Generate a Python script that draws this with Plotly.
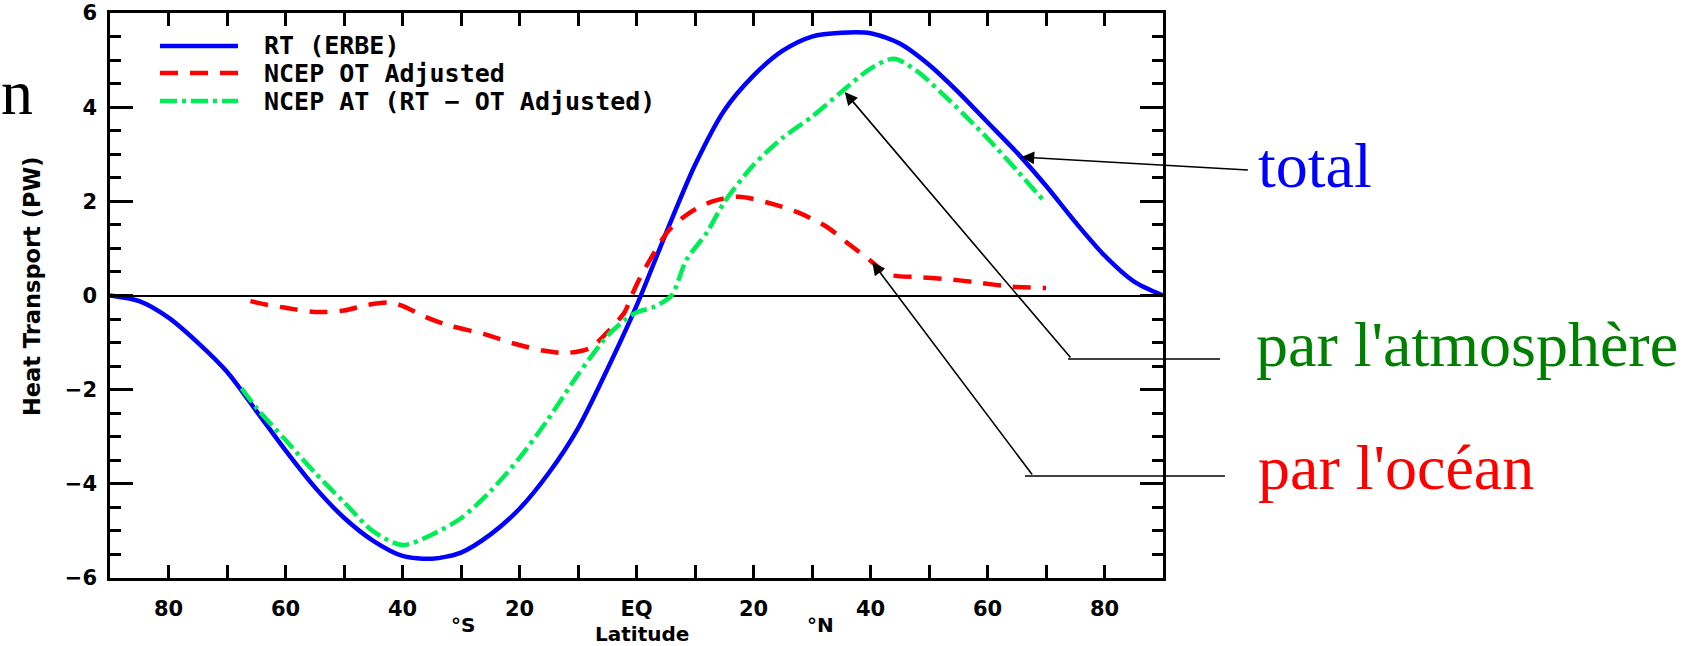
import plotly.graph_objects as go

# ---------------- data ----------------
lat_rt = [-90, -85, -80, -75, -70, -65, -60, -55, -50, -45, -40, -35, -30, -25, -20, -15, -10, -5,
          0, 5, 10, 15, 20, 25, 30, 35, 40, 45, 50, 55, 60, 65, 70, 75, 80, 85, 90]
rt_erbe = [0, -0.12, -0.47, -1.0, -1.62, -2.45, -3.29, -4.07, -4.72, -5.21, -5.53, -5.59, -5.46, -5.08,
           -4.53, -3.77, -2.82, -1.57, -0.22, 1.31, 2.77, 3.93, 4.67, 5.2, 5.5, 5.58, 5.57, 5.35, 4.9,
           4.32, 3.68, 3.04, 2.33, 1.56, 0.85, 0.3, 0]

lat_ot = [-66, -63, -60, -55, -50, -46, -42, -40, -36, -32, -26, -21, -16, -12, -8, -5, -2, -1,
          0.5, 2.5, 5.5, 9, 13, 17.5, 22.5, 27.5, 32.5, 36, 40, 43, 48, 53, 58, 64, 70]
ncep_ot = [-0.12, -0.2, -0.26, -0.35, -0.32, -0.2, -0.15, -0.22, -0.46, -0.64, -0.82, -1.02, -1.17,
           -1.22, -1.12, -0.78, -0.35, -0.05, 0.35, 0.8, 1.38, 1.75, 2.0, 2.1, 1.97, 1.77, 1.46, 1.12,
           0.74, 0.45, 0.39, 0.35, 0.28, 0.19, 0.16]

lat_at = [-67.5, -65, -60, -55, -50, -45, -40, -35, -30, -25, -20, -15, -10, -5, -2, 0, 3, 6, 8.5,
          12, 15, 20, 25, 30, 35, 40, 44, 48, 52, 56, 60, 65, 69.5]
ncep_at = [-1.97, -2.38, -3.07, -3.76, -4.39, -5.01, -5.3, -5.08, -4.73, -4.16, -3.45, -2.61, -1.68,
           -0.86, -0.52, -0.36, -0.24, 0.0, 0.75, 1.33, 1.98, 2.77, 3.35, 3.8, 4.32, 4.82, 5.03, 4.76,
           4.32, 3.84, 3.34, 2.66, 2.03]

series_names = ["RT (ERBE)", "NCEP OT Adjusted", "NCEP AT (RT \u2212 OT Adjusted)"]
x_tickvals = [-80, -60, -40, -20, 0, 20, 40, 60, 80]
x_ticktext = ["80", "60", "40", "20", "EQ", "20", "40", "60", "80"]
y_tickvals = [-6, -4, -2, 0, 2, 4, 6]
y_ticktext = ["\u22126", "\u22124", "\u22122", "0", "2", "4", "6"]

# ---------------- styling ----------------
W, H = 1690, 646
L, R, T, B = 110, 1163, 13, 578  # plot area in pixels
BLUE, RED, GREEN = "#0000ff", "#ff0000", "#00ee55"
DASH_RED = "18px,12px"
DASH_GREEN = "17px,5px,4px,5px"


def px(xp):
    return (xp - L) / (R - L)


def py(yp):
    return (B - yp) / (B - T)


fig = go.Figure()
fig.add_trace(go.Scatter(x=lat_rt, y=rt_erbe, mode="lines", name=series_names[0],
                         line=dict(color=BLUE, width=4.5, shape="spline", smoothing=0.8)))
fig.add_trace(go.Scatter(x=lat_ot, y=ncep_ot, mode="lines", name=series_names[1],
                         line=dict(color=RED, width=4.5, dash=DASH_RED, shape="spline", smoothing=0.8)))
fig.add_trace(go.Scatter(x=lat_at, y=ncep_at, mode="lines", name=series_names[2],
                         line=dict(color=GREEN, width=4.5, dash=DASH_GREEN, shape="spline", smoothing=0.8)))

tickfont = dict(family="DejaVu Sans", size=21, color="black", weight="bold")

fig.update_layout(
    width=W, height=H, autosize=False,
    margin=dict(l=L, r=W - R, t=T, b=H - B, pad=0, autoexpand=False),
    paper_bgcolor="white", plot_bgcolor="white",
    showlegend=False,
)
fig.update_xaxes(
    range=[-90, 90], tickmode="array", tickvals=x_tickvals, ticktext=x_ticktext,
    ticks="inside", ticklen=13, tickwidth=2.5, tickcolor="black",
    showline=True, linewidth=2.5, linecolor="black", mirror="ticks",
    showgrid=False, zeroline=False, tickfont=tickfont, ticklabelstandoff=10,
    minor=dict(dtick=10, tick0=0, ticks="inside", ticklen=13, tickwidth=2.5,
               tickcolor="black", showgrid=False),
)
fig.update_yaxes(
    range=[-6, 6], tickmode="array", tickvals=y_tickvals, ticktext=y_ticktext,
    ticks="inside", ticklen=23, tickwidth=2.5, tickcolor="black",
    showline=True, linewidth=2.5, linecolor="black", mirror="ticks",
    showgrid=False, zeroline=True, zerolinecolor="black", zerolinewidth=2,
    tickfont=tickfont, ticklabelstandoff=6,
    minor=dict(dtick=0.5, tick0=0, ticks="inside", ticklen=11, tickwidth=2.5,
               tickcolor="black", showgrid=False),
)

shapes = []
annotations = []

# ---- custom legend (long sample lines) ----
leg_rows = [46, 73, 101]
leg_styles = [(BLUE, "solid"), (RED, DASH_RED), (GREEN, DASH_GREEN)]
for name, yrow, (col, dsh) in zip(series_names, leg_rows, leg_styles):
    shapes.append(dict(type="line", xref="paper", yref="paper",
                       x0=px(160), x1=px(238), y0=py(yrow), y1=py(yrow),
                       line=dict(color=col, width=4.5, dash=dsh)))
    annotations.append(dict(text=name, xref="paper", yref="paper", x=px(262), y=py(yrow),
                            xanchor="left", yanchor="middle", showarrow=False,
                            font=dict(family="DejaVu Sans Mono", size=25, color="black",
                                      weight="bold")))

# ---- axis titles ----
annotations.append(dict(text="Heat Transport (PW)", xref="paper", yref="paper",
                        x=px(32), y=py(286), textangle=-90, showarrow=False,
                        xanchor="center", yanchor="middle",
                        font=dict(family="DejaVu Sans", size=22.5, color="black", weight="bold")))
annotations.append(dict(text="Latitude", xref="paper", yref="paper", x=px(642), y=py(634),
                        showarrow=False, xanchor="center", yanchor="middle",
                        font=dict(family="DejaVu Sans", size=20, color="black", weight="bold")))
for t, xc in [("\u00b0S", 463), ("\u00b0N", 820)]:
    annotations.append(dict(text=t, xref="paper", yref="paper", x=px(xc), y=py(625),
                            showarrow=False, xanchor="center", yanchor="middle",
                            font=dict(family="DejaVu Sans", size=20, color="black", weight="bold")))

# ---- annotation arrows and labels ----
serif = "Liberation Serif"
arrow_specs = [  # head (lat, value), tail offset in px
    (65.8, 2.94, 228, 13),
    (35.6, 4.32, 227, 267),
    (40.3, 0.71, 161, 214),
]
for hx, hy, dx, dy in arrow_specs:
    annotations.append(dict(text="", x=hx, y=hy, xref="x", yref="y", ax=dx, ay=dy,
                            showarrow=True, arrowhead=2, arrowsize=1.6, arrowwidth=1.6,
                            arrowcolor="black", standoff=0, startstandoff=0))
# horizontal leader segments
for x0p, x1p, yp in [(1068, 1220, 359), (1025, 1225, 476)]:
    shapes.append(dict(type="line", xref="paper", yref="paper", x0=px(x0p), x1=px(x1p),
                       y0=py(yp), y1=py(yp), line=dict(color="black", width=1.6)))
for text, col, xl, yc in [("total", BLUE, 1256, 166),
                          ("par l'atmosph\u00e8re", "#008000", 1254, 345),
                          ("par l'oc\u00e9an", RED, 1256, 467)]:
    annotations.append(dict(text=text, xref="paper", yref="paper", x=px(xl), y=py(yc),
                            xanchor="left", yanchor="middle", showarrow=False,
                            font=dict(family=serif, size=64, color=col)))

# cut-off letter at the far left
annotations.append(dict(text="n", xref="paper", yref="paper", x=px(35), y=py(92),
                        xanchor="right", yanchor="middle", showarrow=False,
                        font=dict(family=serif, size=64, color="black")))

fig.update_layout(shapes=shapes, annotations=annotations)
fig.write_html("out.html", config={"displayModeBar": False},
               post_script="document.body.style.margin='0px';")
